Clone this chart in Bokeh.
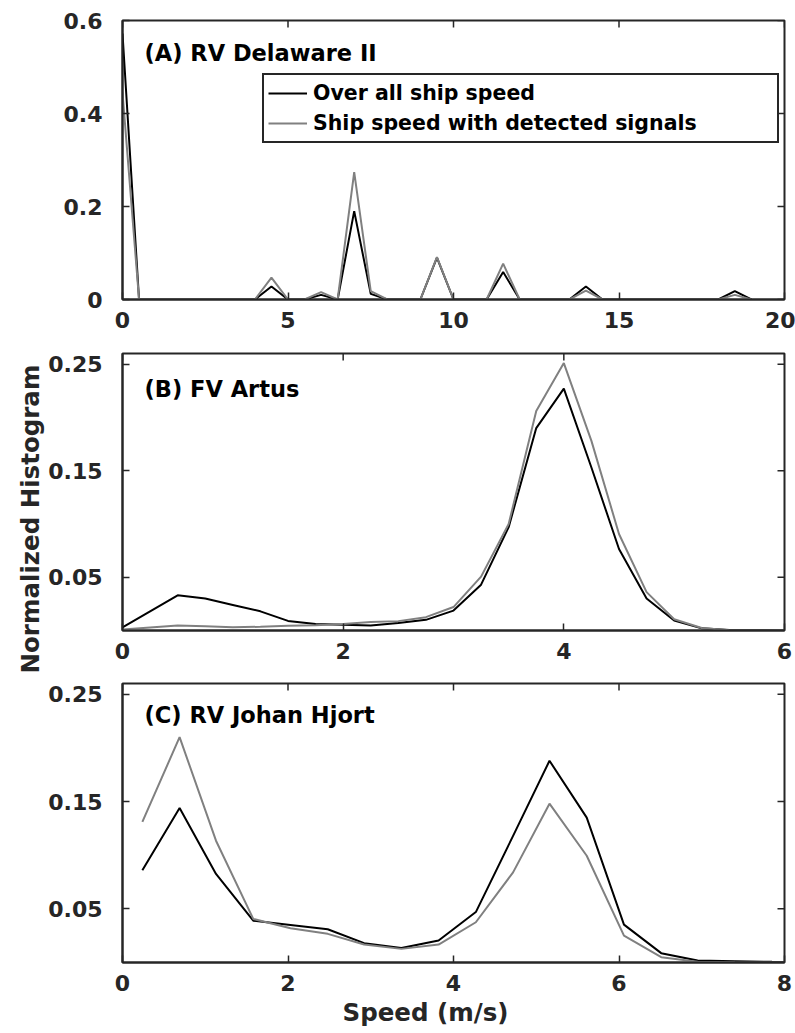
from bokeh.plotting import figure
from bokeh.models import Range1d, FixedTicker, Label, Legend, LegendItem, Title
from bokeh.layouts import column
from bokeh.embed import file_html
from bokeh.resources import INLINE
import math

# ---------------- data ----------------
# Panel A: RV Delaware II
a_speed = [0.0, 0.5, 1.0, 1.5, 2.0, 2.5, 3.0, 3.5, 4.0, 4.5, 5.0, 5.5, 6.0, 6.5, 7.0, 7.5,
           8.0, 8.5, 9.0, 9.5, 10.0, 10.5, 11.0, 11.5, 12.0, 12.5, 13.0, 13.5, 14.0, 14.5,
           15.0, 15.5, 16.0, 16.5, 17.0, 17.5, 18.0, 18.5, 19.0]
a_all = [0.572, 0.0, 0.0, 0.0, 0.0, 0.0, 0.0, 0.0, 0.0, 0.028, 0.0, 0.0, 0.010, 0.0, 0.190, 0.012,
         0.0, 0.0, 0.0, 0.090, 0.0, 0.0, 0.0, 0.059, 0.0, 0.0, 0.0, 0.0, 0.028, 0.0,
         0.0, 0.0, 0.0, 0.0, 0.0, 0.0, 0.0, 0.018, 0.0]
a_det = [0.445, 0.0, 0.0, 0.0, 0.0, 0.0, 0.0, 0.0, 0.0, 0.047, 0.0, 0.0, 0.016, 0.0, 0.274, 0.018,
         0.0, 0.0, 0.0, 0.091, 0.0, 0.0, 0.0, 0.077, 0.0, 0.0, 0.0, 0.0, 0.019, 0.0,
         0.0, 0.0, 0.0, 0.0, 0.0, 0.0, 0.0, 0.010, 0.0]

# Panel B: FV Artus
b_speed = [0.0, 0.5, 0.75, 1.0, 1.25, 1.5, 1.75, 2.0, 2.25, 2.5, 2.75, 3.0, 3.25, 3.5, 3.75,
           4.0, 4.25, 4.5, 4.75, 5.0, 5.25, 5.5, 5.75, 6.0]
b_all = [0.003, 0.033, 0.030, 0.024, 0.018, 0.009, 0.006, 0.0055, 0.0047, 0.007, 0.010, 0.0187,
         0.043, 0.097, 0.190, 0.227, 0.153, 0.0765, 0.030, 0.0094, 0.002, 0.0005, 0.0002, 0.0]
b_det = [0.001, 0.0047, 0.004, 0.003, 0.0035, 0.0045, 0.005, 0.0062, 0.008, 0.0088, 0.0125, 0.022,
         0.0506, 0.100, 0.206, 0.251, 0.178, 0.0906, 0.036, 0.0106, 0.0023, 0.0003, 0.0001, 0.0]

# Panel C: RV Johan Hjort
c_speed = [0.24, 0.69, 1.13, 1.58, 2.03, 2.48, 2.92, 3.37, 3.82, 4.27, 4.72, 5.16, 5.61, 6.06,
           6.51, 6.95, 7.40, 7.85, 8.30]
c_all = [0.086, 0.144, 0.0825, 0.039, 0.035, 0.031, 0.018, 0.0136, 0.0205, 0.047, 0.118, 0.188,
         0.135, 0.0353, 0.0087, 0.0019, 0.0012, 0.0006, 0.0003]
c_det = [0.131, 0.210, 0.1135, 0.0406, 0.032, 0.0267, 0.0167, 0.0127, 0.0167, 0.0375, 0.084, 0.148,
         0.0995, 0.025, 0.005, 0.0007, 0.0003, 0.0, 0.0]

a_xticks = [0, 5, 10, 15, 20]
a_yticks = [0, 0.2, 0.4, 0.6]
a_ylabels = ["0", "0.2", "0.4", "0.6"]
b_xticks = [0, 2, 4, 6]
c_xticks = [0, 2, 4, 6, 8]
bc_yticks = [0.05, 0.15, 0.25]
bc_ylabels = ["0.05", "0.15", "0.25"]

series_names = ["Over all ship speed", "Ship speed with detected signals"]
titles = ["(A) RV Delaware II", "(B) FV Artus", "(C) RV Johan Hjort"]
y_title = "Normalized Histogram"
x_title = "Speed (m/s)"

FONT = "DejaVu Sans"
AX_COLOR = "#262626"
BLACK = "#000000"
GREY = "#808080"
TICK_LEN = 7


def style_axis(ax):
    ax.axis_line_color = AX_COLOR
    ax.axis_line_width = 2
    ax.major_tick_line_color = AX_COLOR
    ax.major_tick_line_width = 1.5
    ax.major_tick_in = TICK_LEN
    ax.major_tick_out = 0
    ax.minor_tick_line_color = None
    ax.major_label_text_font = FONT
    ax.major_label_text_font_style = "bold"
    ax.major_label_text_font_size = "22px"
    ax.major_label_text_color = AX_COLOR


def make_panel(height, top, bottom, xr, yr, xticks, yticks, ylabels, xs, y_all, y_det, title, title_dy):
    p = figure(width=795, height=height, min_border_left=122, min_border_right=11,
               min_border_top=top, min_border_bottom=bottom,
               x_range=Range1d(*xr), y_range=Range1d(*yr),
               output_backend="svg", toolbar_location=None)
    p.grid.visible = False
    p.outline_line_color = AX_COLOR
    p.outline_line_width = 2
    p.outline_line_alpha = 1
    p.background_fill_color = "white"
    p.border_fill_color = "white"

    p.xaxis.ticker = FixedTicker(ticks=xticks)
    p.yaxis.ticker = FixedTicker(ticks=yticks)
    p.yaxis.major_label_overrides = {t: l for t, l in zip(yticks, ylabels)}
    p.xaxis.major_label_overrides = {t: str(t) for t in xticks}
    style_axis(p.xaxis[0])
    style_axis(p.yaxis[0])
    p.yaxis.major_label_standoff = 20
    p.xaxis.major_label_standoff = 12

    # mirrored inward ticks on the top and right edges of the box
    p.ray(x=xticks, y=[yr[1]] * len(xticks), length=TICK_LEN, length_units="screen",
          angle=-math.pi / 2, line_color=AX_COLOR, line_width=1.5)
    p.ray(x=[xr[1]] * len(yticks), y=yticks, length=TICK_LEN, length_units="screen",
          angle=math.pi, line_color=AX_COLOR, line_width=1.5)

    r1 = p.line(xs, y_all, line_color=BLACK, line_width=2)
    r2 = p.line(xs, y_det, line_color=GREY, line_width=2)

    p.add_layout(Label(x=22, y=279 - title_dy, x_units="screen", y_units="screen",
                       text=title, text_font=FONT, text_font_style="bold",
                       text_font_size="22.5px", text_color=BLACK,
                       text_align="left", text_baseline="middle"))
    return p, r1, r2


pA, ra1, ra2 = make_panel(340, 20, 41, (0, 20), (0, 0.6), a_xticks, a_yticks, a_ylabels,
                          a_speed, a_all, a_det, titles[0], 32)
pB, rb1, rb2 = make_panel(340, 13, 50, (0, 6), (0, 0.26), b_xticks, bc_yticks, bc_ylabels,
                          b_speed, b_all, b_det, titles[1], 37)
pC, rc1, rc2 = make_panel(353, 3, 71, (0, 8), (0, 0.26), c_xticks, bc_yticks, bc_ylabels,
                          c_speed, c_all, c_det, titles[2], 31)

legend = Legend(items=[LegendItem(label=series_names[0], renderers=[ra1]),
                       LegendItem(label=series_names[1], renderers=[ra2])],
                location=(140, 156))
legend.label_text_font = FONT
legend.label_text_font_style = "bold"
legend.label_text_font_size = "20.5px"
legend.label_text_color = BLACK
legend.glyph_width = 39
legend.glyph_height = 28
legend.label_height = 28
legend.label_width = 460
legend.label_standoff = 6
legend.spacing = 2
legend.padding = 4
legend.margin = 0
legend.border_line_color = AX_COLOR
legend.border_line_width = 2
legend.border_line_alpha = 1
legend.background_fill_color = "white"
legend.background_fill_alpha = 1
pA.add_layout(legend)

pB.add_layout(Title(text=y_title, align="left", offset=-43, standoff=2,
                    text_font=FONT, text_font_style="bold", text_font_size="24.5px",
                    text_color=AX_COLOR), "left")
pC.add_layout(Title(text=x_title, align="left", offset=220, standoff=4,
                    text_font=FONT, text_font_style="bold", text_font_size="24.5px",
                    text_color=AX_COLOR), "below")

layout = column(pA, pB, pC, spacing=0)
open("out.html", "w").write(file_html(layout, INLINE))
